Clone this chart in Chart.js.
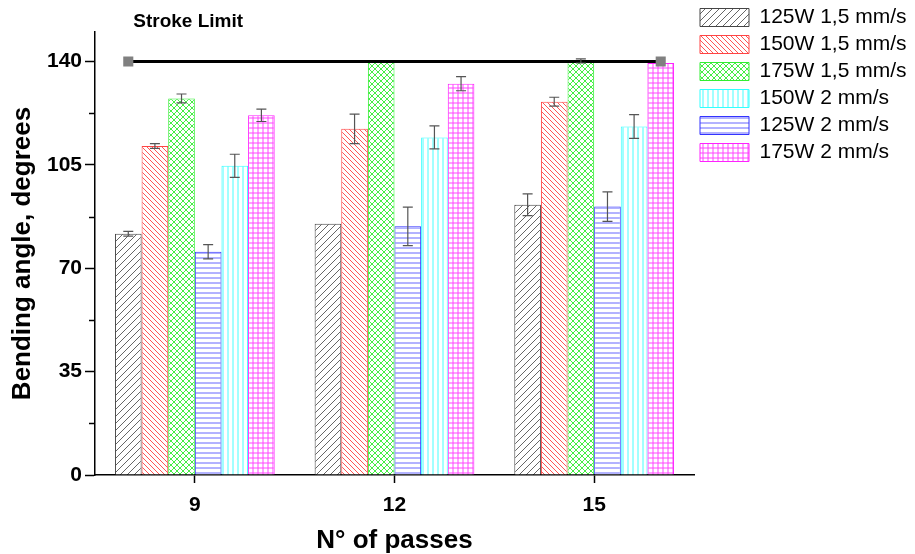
<!DOCTYPE html>
<html>
<head>
<meta charset="utf-8">
<script src="https://cdn.jsdelivr.net/npm/chart.js@4/dist/chart.umd.min.js"></script>
<style>
  html, body { margin: 0; padding: 0; background: #fff; }
  #wrap { width: 915px; height: 554px; }
</style>
</head>
<body>
<div id="wrap"><canvas id="myChart" width="915" height="554"></canvas></div>
<script>
// passes on the x axis
const passes = [9, 12, 15];

// bending angle per series (degrees) and the error bars
const w125s15 = [81.7, 85.1, 91.5];
const w150s15 = [111.4, 117.2, 126.4];
const w175s15 = [127.5, 140, 140.2];
const w125s2 = [75.6, 84.2, 90.9];
const w150s2 = [104.7, 114.3, 118];
const w175s2 = [121.8, 132.5, 139.5];

const err125s15 = [0.8, 0, 3.7];
const err150s15 = [0.8, 5, 1.5];
const err175s15 = [1.5, 0, 0.7];
const err125s2 = [2.4, 6.5, 5];
const err150s2 = [3.9, 3.9, 4];
const err175s2 = [2.1, 2.4, 0];

// stroke limit line
const strokeLimit = 140;
const strokeX = [8, 16];

const yTicks = [0, 17.5, 35, 52.5, 70, 87.5, 105, 122.5, 140];
const yLabels = [0, 35, 70, 105, 140];

// legend shows 150W 2 mm/s before 125W 2 mm/s
const legendOrder = [0, 1, 2, 4, 3, 5];

const FONT = "'Liberation Sans', Arial, sans-serif";

function makePattern(color, kind, size) {
    const c = document.createElement('canvas');
    c.width = size;
    c.height = size;
    const g = c.getContext('2d');
    g.fillStyle = '#fff';
    g.fillRect(0, 0, size, size);
    g.strokeStyle = color;
    g.lineWidth = 1;
    g.beginPath();
    if (kind === 'fwd' || kind === 'cross') {
        g.moveTo(-1, size + 1); g.lineTo(size + 1, -1);
        g.moveTo(-1, 1); g.lineTo(1, -1);
        g.moveTo(size - 1, size + 1); g.lineTo(size + 1, size - 1);
    }
    if (kind === 'back' || kind === 'cross') {
        g.moveTo(-1, -1); g.lineTo(size + 1, size + 1);
        g.moveTo(size - 1, -1); g.lineTo(size + 1, 1);
        g.moveTo(-1, size - 1); g.lineTo(1, size + 1);
    }
    if (kind === 'horiz' || kind === 'grid') {
        g.moveTo(0, size / 2 + 0.5); g.lineTo(size, size / 2 + 0.5);
    }
    if (kind === 'vert' || kind === 'grid') {
        g.moveTo(size / 2 + 0.5, 0); g.lineTo(size / 2 + 0.5, size);
    }
    g.stroke();
    return g.createPattern(c, 'repeat');
}

function barSet(label, values, errors, color, hatch, kind, size) {
    return {
        label: label,
        data: passes.map((p, i) => ({x: p, y: values[i]})),
        errors: errors,
        backgroundColor: makePattern(hatch, kind, size),
        borderColor: color,
        borderWidth: 1,
        order: 1
    };
}

const errorBars = {
    id: 'errorBars',
    afterDatasetsDraw(chart) {
        const ctx = chart.ctx;
        const x = chart.scales.x;
        const y = chart.scales.y;
        ctx.save();
        ctx.strokeStyle = '#555';
        ctx.lineWidth = 1.2;
        chart.data.datasets.forEach((ds, i) => {
            if (!ds.errors) return;
            const meta = chart.getDatasetMeta(i);
            meta.data.forEach((bar, j) => {
                const e = ds.errors[j];
                if (!e) return;
                const v = ds.data[j].y;
                const top = y.getPixelForValue(v + e);
                const bot = y.getPixelForValue(v - e);
                ctx.beginPath();
                ctx.moveTo(bar.x, top); ctx.lineTo(bar.x, bot);
                ctx.moveTo(bar.x - 5, top); ctx.lineTo(bar.x + 5, top);
                ctx.moveTo(bar.x - 5, bot); ctx.lineTo(bar.x + 5, bot);
                ctx.stroke();
            });
        });
        // minor ticks on the y axis, shorter than the labelled ones
        ctx.strokeStyle = '#000';
        ctx.lineWidth = 1.5;
        yTicks.filter(v => !yLabels.includes(v)).forEach(v => {
            const py = Math.round(y.getPixelForValue(v)) + 0.5;
            ctx.beginPath();
            ctx.moveTo(y.right - 6, py); ctx.lineTo(y.right, py);
            ctx.stroke();
        });
        // label of the stroke limit line
        ctx.fillStyle = '#000';
        ctx.font = 'bold 19px ' + FONT;
        ctx.textAlign = 'left';
        ctx.textBaseline = 'middle';
        ctx.fillText('Stroke Limit', x.getPixelForValue(strokeX[0]) + 5, y.getPixelForValue(strokeLimit) - 40);
        ctx.restore();
    }
};

// pull the legend up to the top of the canvas
const legendUp = {
    id: 'legendUp',
    afterLayout(chart) {
        const lg = chart.legend;
        const h = lg.bottom - lg.top;
        lg.top = 1;
        lg.bottom = 1 + h;
    }
};

const ctx = document.getElementById('myChart');

new Chart(ctx, {
    type: 'bar',
    data: {
        datasets: [
            barSet('125W 1,5 mm/s', w125s15, err125s15, '#444444', '#666666', 'fwd', 7),
            barSet('150W 1,5 mm/s', w150s15, err150s15, '#ff4444', '#ff5555', 'back', 5),
            barSet('175W 1,5 mm/s', w175s15, err175s15, '#33ee33', '#44ee44', 'cross', 6),
            barSet('125W 2 mm/s', w125s2, err125s2, '#3333ff', '#6666ff', 'horiz', 5),
            barSet('150W 2 mm/s', w150s2, err150s2, '#33ffff', '#44ffff', 'vert', 5),
            barSet('175W 2 mm/s', w175s2, err175s2, '#ff22ff', '#ff44ff', 'grid', 5),
            {
                type: 'line',
                label: 'Stroke Limit',
                data: strokeX.map(v => ({x: v, y: strokeLimit})),
                borderColor: '#000',
                borderWidth: 3,
                pointStyle: 'rect',
                pointRadius: 5,
                pointBackgroundColor: '#808080',
                pointBorderColor: '#808080',
                order: 0
            }
        ]
    },
    options: {
        responsive: false,
        animation: false,
        layout: { padding: { top: 32, right: 0, left: 0, bottom: 0 } },
        datasets: { bar: { categoryPercentage: 0.8, barPercentage: 1.0 } },
        scales: {
            x: {
                type: 'linear',
                min: 7.5,
                max: 16.5,
                offset: false,
                afterFit(scale) { scale.height = 79; },
                afterBuildTicks(scale) { scale.ticks = passes.map(v => ({value: v})); },
                grid: { offset: false, drawOnChartArea: false, tickLength: 8, tickColor: '#000', tickWidth: 1.5 },
                border: { color: '#000', width: 1.5 },
                ticks: { color: '#000', padding: 10, font: { family: FONT, size: 21, weight: 'bold' } },
                title: {
                    display: true,
                    text: 'N° of passes',
                    color: '#000',
                    padding: { top: 0, bottom: 0 },
                    font: { family: FONT, size: 26, weight: 'bold', lineHeight: 1.0 }
                }
            },
            y: {
                min: 0,
                max: 150,
                afterFit(scale) { scale.width = 95; },
                afterBuildTicks(scale) { scale.ticks = yTicks.map(v => ({value: v})); },
                grid: {
                    drawOnChartArea: false,
                    tickLength: 10,
                    tickWidth: 1.5,
                    tickColor: c => yLabels.includes(c.tick.value) ? '#000' : 'rgba(0,0,0,0)'
                },
                border: { color: '#000', width: 1.5 },
                ticks: {
                    color: '#000',
                    padding: 3,
                    font: { family: FONT, size: 21, weight: 'bold' },
                    callback: v => yLabels.includes(v) ? String(v) : ''
                },
                title: {
                    display: true,
                    text: 'Bending angle, degrees',
                    color: '#000',
                    padding: { top: 7, bottom: 0 },
                    font: { family: FONT, size: 26, weight: 'bold', lineHeight: 1.2 }
                }
            }
        },
        plugins: {
            tooltip: { enabled: false },
            legend: {
                position: 'right',
                align: 'start',
                maxWidth: 221,
                labels: {
                    color: '#000',
                    boxWidth: 49,
                    boxHeight: 18,
                    padding: 6,
                    font: { family: FONT, size: 21 },
                    filter: item => item.datasetIndex < 6,
                    sort: (a, b) => legendOrder.indexOf(a.datasetIndex) - legendOrder.indexOf(b.datasetIndex)
                }
            }
        }
    },
    plugins: [errorBars, legendUp]
});
</script>
</body>
</html>
